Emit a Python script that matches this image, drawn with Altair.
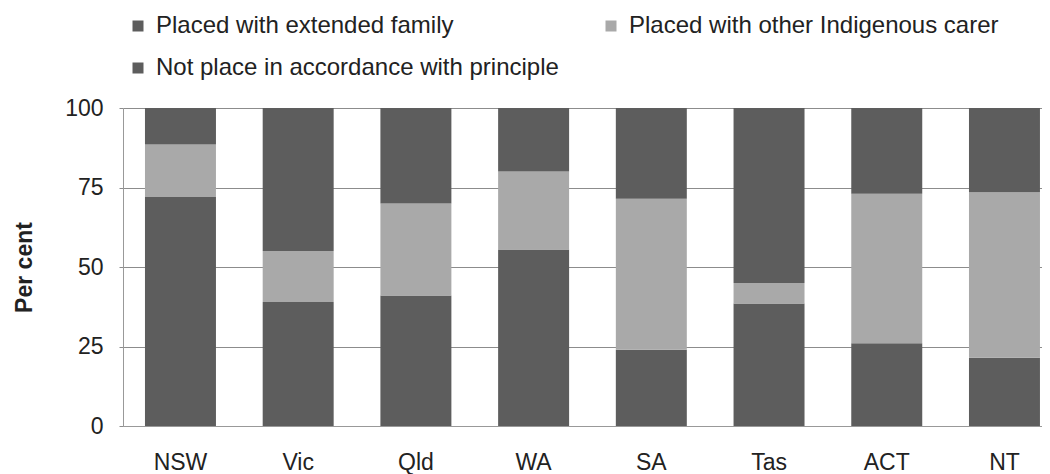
import altair as alt
import pandas as pd

states = ["NSW", "Vic", "Qld", "WA", "SA", "Tas", "ACT", "NT"]
categories = [
    "Placed with extended family",
    "Placed with other Indigenous carer",
    "Not place in accordance with principle",
]
extended_family = [72, 39, 41, 55.5, 24, 38.5, 26, 21.5]
other_indigenous = [16.5, 16, 29, 24.5, 47.5, 6.5, 47, 52]
not_in_accordance = [11.5, 45, 30, 20, 28.5, 55, 27, 26.5]
y_ticks = [0, 25, 50, 75, 100]

rows = []
for i, s in enumerate(states):
    for k, (cat, vals) in enumerate(zip(categories, [extended_family, other_indigenous, not_in_accordance])):
        rows.append({"State": s, "Category": cat, "Value": vals[i], "Order": k})
df = pd.DataFrame(rows)

FONT = "Liberation Sans"

chart = (
    alt.Chart(df)
    .mark_bar()
    .encode(
        x=alt.X(
            "State:N",
            sort=states,
            scale=alt.Scale(paddingInner=0.397, paddingOuter=0.102, align=0.915),
            axis=alt.Axis(
                title=None,
                labelAngle=0,
                labelFontSize=23,
                labelFont=FONT,
                labelColor="#222222",
                labelPadding=25,
                ticks=False,
                domainColor="#999999",
            ),
        ),
        y=alt.Y(
            "Value:Q",
            stack="zero",
            scale=alt.Scale(domain=[0, 100], nice=False),
            axis=alt.Axis(
                title="Per cent",
                titleFont=FONT,
                titleFontSize=23,
                titleFontWeight="bold",
                titleColor="#222222",
                titlePadding=28,
                values=y_ticks,
                labelFontSize=23,
                labelFont=FONT,
                labelColor="#222222",
                labelPadding=16,
                tickSize=4,
                tickColor="#8c8c8c",
                gridColor="#8c8c8c",
                domainColor="#999999",
            ),
        ),
        color=alt.Color(
            "Category:N",
            scale=alt.Scale(domain=categories, range=["#5d5d5d", "#a9a9a9", "#5d5d5d"]),
            legend=alt.Legend(
                title=None,
                orient="none",
                legendX=3,
                legendY=-94,
                direction="horizontal",
                columns=2,
                columnPadding=40,
                rowPadding=18,
                padding=0,
                symbolType="square",
                symbolSize=121,
                symbolStrokeWidth=0,
                labelFontSize=24,
                labelFont=FONT,
                labelColor="#222222",
                labelOffset=6,
                labelLimit=0,
            ),
        ),
        order=alt.Order("Order:Q"),
    )
    .properties(
        width=919,
        height=318,
        autosize=alt.AutoSizeParams(type="none"),
        padding={"left": 115, "top": 100, "right": 0, "bottom": 50},
    )
    .configure_view(stroke=None)
    .configure_axis(grid=True)
    .configure_axisX(grid=False)
)

chart.save("out.html", embed_options={"renderer": "svg", "actions": False})
